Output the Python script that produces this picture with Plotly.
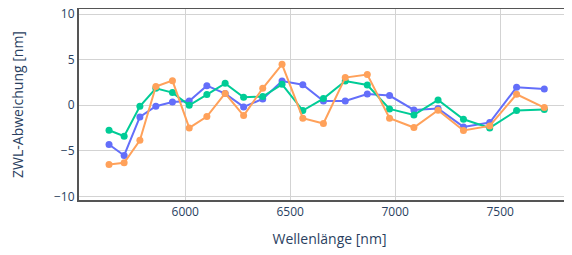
import plotly.graph_objects as go

wavelength = [5637, 5709, 5784, 5860, 5939, 6019, 6103, 6190, 6278, 6369, 6461,
              6560, 6658, 6762, 6867, 6973, 7089, 7204, 7325, 7450, 7578, 7710]
series_blue = [-4.3, -5.5, -1.28, -0.1, 0.36, 0.47, 2.15, 1.28, -0.18, 0.69, 2.66,
               2.26, 0.47, 0.47, 1.24, 1.06, -0.51, -0.36, -2.37, -1.9, 1.97, 1.79]
series_green = [-2.74, -3.39, -0.11, 1.86, 1.39, 0.0, 1.17, 2.4, 0.88, 0.95, 2.3,
                -0.58, 0.73, 2.66, 2.22, -0.4, -1.06, 0.58, -1.53, -2.48, -0.58, -0.47]
series_orange = [-6.49, -6.31, -3.83, 2.05, 2.7, -2.48, -1.24, 1.3, -1.13, 1.86, 4.49,
                 -1.42, -2.0, 3.03, 3.36, -1.42, -2.44, -0.55, -2.77, -2.26, 1.2, -0.25]

x_title = "Wellenlänge [nm]"
y_title = "ZWL-Abweichung [nm]"

fig = go.Figure()
for ys, col in [(series_blue, "#636efa"), (series_green, "#00cc96"), (series_orange, "#FFA15A")]:
    fig.add_trace(go.Scatter(x=wavelength, y=ys, mode="lines+markers",
                             line=dict(color=col, width=2),
                             marker=dict(color=col, size=7)))

fig.update_layout(
    template="plotly_white",
    width=572, height=255,
    margin=dict(l=71, r=0, t=1, b=63),
    showlegend=False,
    font=dict(family="Open Sans", color="#2a3f5f"),
    xaxis=dict(title=dict(text=x_title, font=dict(size=14)), range=[5494, 7880],
               tickvals=[6000, 6500, 7000, 7500], automargin=False,
               showline=True, linecolor="#555", linewidth=2, mirror=True,
               gridcolor="lightgray", zeroline=False, tickfont=dict(size=12),
               ticklabeloverflow="allow"),
    yaxis=dict(title=dict(text=y_title, font=dict(size=14), standoff=28),
               range=[-10.38, 10.55],
               tickvals=[-10, -5, 0, 5, 10], automargin=False,
               showline=True, linecolor="#555", linewidth=2, mirror=False,
               gridcolor="lightgray", zeroline=False, tickfont=dict(size=12),
               ticklabeloverflow="allow"),
)

fig.write_html("out.html")
